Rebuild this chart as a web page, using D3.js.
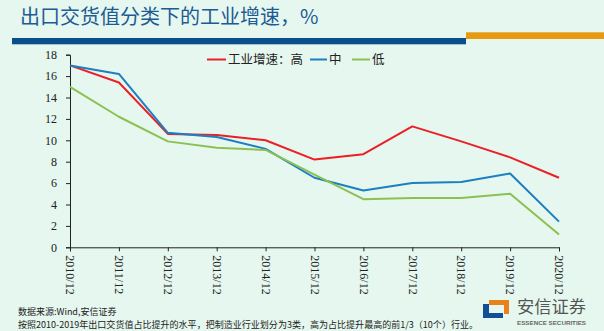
<!DOCTYPE html>
<html>
<head>
<meta charset="utf-8">
<script src="https://cdn.jsdelivr.net/npm/d3@7/dist/d3.min.js"></script>
<style>
  html, body { margin: 0; padding: 0; background: #e5f7ee; }
  svg { display: block; }
</style>
</head>
<body>
<svg id="chart" width="604" height="331"></svg>
<script>
// Export-delivery-value groups: industrial growth by year (%)
const years = ["2010/12","2011/12","2012/12","2013/12","2014/12","2015/12","2016/12","2017/12","2018/12","2019/12","2020/12"];
const highSeries = [17.0, 15.4, 10.6, 10.5, 10.0, 8.2, 8.7, 11.3, 9.9, 8.4, 6.5];
const midSeries  = [17.0, 16.2, 10.7, 10.3, 9.2, 6.5, 5.3, 6.0, 6.1, 6.9, 2.4];
const lowSeries  = [15.0, 12.2, 9.9, 9.3, 9.1, 6.8, 4.5, 4.6, 4.6, 5.0, 1.2];
const yTicks = [0, 2, 4, 6, 8, 10, 12, 14, 16, 18];

const seriesList = [
  { name: "工业增速：高", values: highSeries, color: "#ec1f27" },
  { name: "中", values: midSeries, color: "#1b7fc3" },
  { name: "低", values: lowSeries, color: "#8cc152" }
];

const svg = d3.select("#chart");
const plotLeft = 70, plotRight = 559, plotTop = 54.7, plotBottom = 247.3;

// Header
svg.append("text").attr("x", 20).attr("y", 24)
  .attr("font-family", "Noto Sans CJK SC, sans-serif").attr("font-size", 20)
  .attr("fill", "#1d5b94").text("出口交货值分类下的工业增速，%");
svg.append("rect").attr("x", 12).attr("y", 38).attr("width", 454).attr("height", 6.3).attr("fill", "#0a4f8b");
svg.append("rect").attr("x", 466).attr("y", 32.3).attr("width", 138).attr("height", 6.7).attr("fill", "#e79a10");

// Scales
const x = d3.scalePoint().domain(years).range([plotLeft, plotRight]);
const y = d3.scaleLinear().domain([0, 18]).range([plotBottom, plotTop]);

// Axes
const yAxis = svg.append("g").attr("transform", `translate(${plotLeft},0)`)
  .call(d3.axisLeft(y).tickValues(yTicks).tickSize(4).tickPadding(9));
yAxis.selectAll("text").attr("font-family", "Liberation Serif, serif").attr("font-size", 12).attr("fill", "#222");

const xAxis = svg.append("g").attr("transform", `translate(0,${plotBottom})`)
  .call(d3.axisBottom(x).tickSize(4).tickPadding(0));
xAxis.selectAll("text")
  .attr("font-family", "Liberation Serif, serif").attr("font-size", 12).attr("fill", "#222")
  .attr("transform", "rotate(90)")
  .attr("text-anchor", "start")
  .attr("x", 8).attr("y", 0).attr("dy", "0.35em");

svg.selectAll(".domain, .tick line").attr("stroke", "#222").attr("stroke-width", 1);

// Lines
const line = d3.line().x((d, i) => x(years[i])).y(d => y(d));
seriesList.forEach(s => {
  svg.append("path").datum(s.values)
    .attr("d", line).attr("fill", "none")
    .attr("stroke", s.color).attr("stroke-width", 2)
    .attr("stroke-linejoin", "round");
});

// Legend
const legendItems = [
  { x: 207, w: 19, tx: 228 },
  { x: 310, w: 17, tx: 329 },
  { x: 352, w: 18, tx: 372 }
];
seriesList.forEach((s, i) => {
  const it = legendItems[i];
  svg.append("line").attr("x1", it.x).attr("x2", it.x + it.w).attr("y1", 59.5).attr("y2", 59.5)
    .attr("stroke", s.color).attr("stroke-width", 2);
  svg.append("text").attr("x", it.tx).attr("y", 64)
    .attr("font-family", "Noto Sans CJK SC, sans-serif").attr("font-size", 12.5)
    .attr("fill", "#222").text(s.name);
});

// Footer notes
svg.append("text").attr("x", 18).attr("y", 315)
  .attr("font-family", "Noto Sans CJK SC, sans-serif").attr("font-size", 9).attr("fill", "#222")
  .text("数据来源:Wind,安信证券");
svg.append("text").attr("x", 18).attr("y", 327.5)
  .attr("font-family", "Noto Sans CJK SC, sans-serif").attr("font-size", 9).attr("fill", "#222")
  .attr("textLength", 460).attr("lengthAdjust", "spacingAndGlyphs")
  .text("按照2010-2019年出口交货值占比提升的水平，把制造业行业划分为3类，高为占比提升最高的前1/3（10个）行业。");

// Logo
const logo = svg.append("g");
logo.append("path").attr("d", "M483,304 h6 v9 h14 v5 h-20 Z").attr("fill", "#124f97");
logo.append("path").attr("d", "M489,300 h20 v14 h-5 v-9 h-15 Z").attr("fill", "#e8821a");
logo.append("text").attr("x", 517).attr("y", 313)
  .attr("font-family", "Noto Sans CJK SC, sans-serif").attr("font-size", 16.5).attr("fill", "#555")
  .attr("textLength", 69).attr("lengthAdjust", "spacingAndGlyphs").text("安信证券");
logo.append("text").attr("x", 517).attr("y", 324.5)
  .attr("font-family", "Liberation Sans, sans-serif").attr("font-size", 5.5).attr("font-weight", "bold").attr("fill", "#666")
  .attr("textLength", 69).attr("lengthAdjust", "spacingAndGlyphs").text("ESSENCE SECURITIES");
</script>
</body>
</html>
